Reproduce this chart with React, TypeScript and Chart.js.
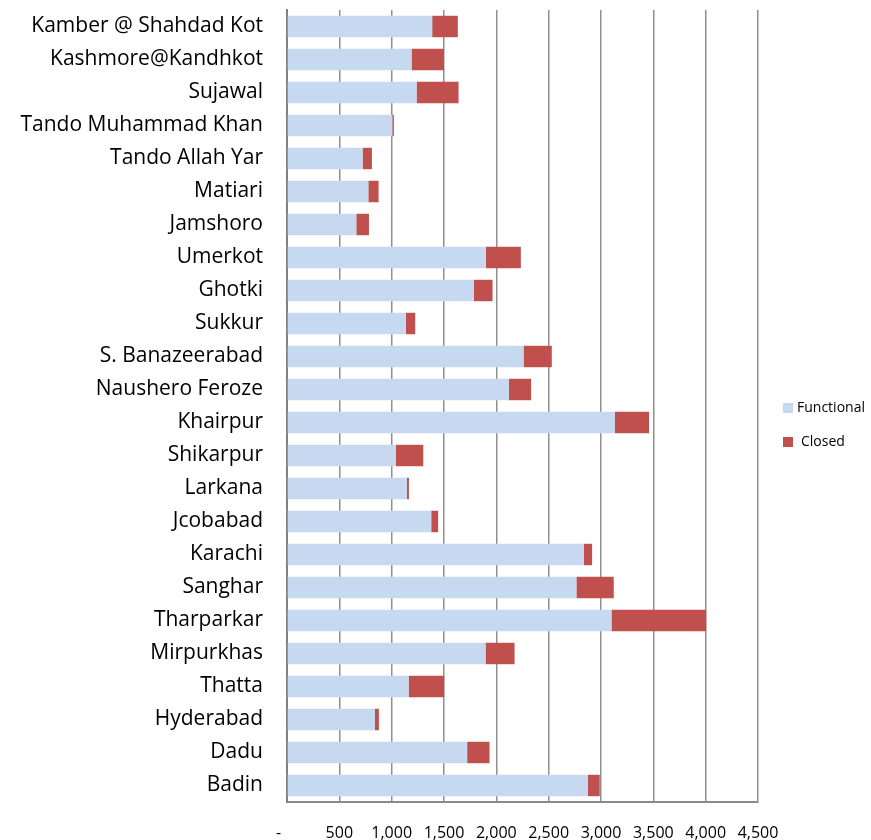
import React, { useEffect, useRef } from "react";
import { Chart, registerables } from "chart.js";

Chart.register(...registerables);

const districts = [
  "Kamber @ Shahdad Kot",
  "Kashmore@Kandhkot",
  "Sujawal",
  "Tando Muhammad Khan",
  "Tando Allah Yar",
  "Matiari",
  "Jamshoro",
  "Umerkot",
  "Ghotki",
  "Sukkur",
  "S. Banazeerabad",
  "Naushero Feroze",
  "Khairpur",
  "Shikarpur",
  "Larkana",
  "Jcobabad",
  "Karachi",
  "Sanghar",
  "Tharparkar",
  "Mirpurkhas",
  "Thatta",
  "Hyderabad",
  "Dadu",
  "Badin",
];

const functional = [
  1387, 1190, 1238, 1006, 722, 777, 662, 1900, 1785, 1136, 2260, 2119, 3131,
  1041, 1146, 1378, 2835, 2765, 3100, 1897, 1162, 840, 1721, 2876,
];

const closed = [
  245, 309, 401, 15, 89, 98, 121, 334, 179, 89, 270, 213, 328, 261, 19, 66,
  80, 357, 905, 277, 340, 38, 214, 112,
];

const seriesNames = ["Functional", "Closed"];
const seriesColors = ["#C6D9F1", "#C0504D"];

const xMax = 4500;
const xStep = 500;

const FONT = "'Open Sans', 'DejaVu Sans', sans-serif";

const legendPlugin = {
  id: "sideLegend",
  afterDraw(chart: any) {
    const { ctx, chartArea } = chart;
    const mid = (chartArea.top + chartArea.bottom) / 2;
    const x = chartArea.right + 25;
    ctx.save();
    ctx.font = `14px ${FONT}`;
    ctx.textBaseline = "middle";
    ctx.textAlign = "left";
    chart.data.datasets.forEach((ds: any, i: number) => {
      const cy = mid + 2 + i * 34;
      ctx.fillStyle = ds.backgroundColor;
      ctx.fillRect(x, cy - 5, 10, 10);
      ctx.fillStyle = "#000";
      ctx.fillText(ds.label, x + 14 + (i === 1 ? 4 : 0), cy);
    });
    ctx.restore();
  },
};

export default function App() {
  const ref = useRef<HTMLCanvasElement | null>(null);

  useEffect(() => {
    if (!ref.current) return;
    const chart = new Chart(ref.current, {
      type: "bar",
      data: {
        labels: districts,
        datasets: [
          {
            label: seriesNames[0],
            data: functional,
            backgroundColor: seriesColors[0],
            categoryPercentage: 1,
            barPercentage: 0.65,
          },
          {
            label: seriesNames[1],
            data: closed,
            backgroundColor: seriesColors[1],
            categoryPercentage: 1,
            barPercentage: 0.65,
          },
        ],
      },
      options: {
        indexAxis: "y",
        responsive: false,
        maintainAspectRatio: false,
        animation: false,
        layout: { padding: { top: 10, right: 113, bottom: 0, left: 0 } },
        plugins: {
          legend: { display: false },
          tooltip: { enabled: false },
        },
        scales: {
          x: {
            stacked: true,
            min: 0,
            max: xMax,
            afterFit: (scale: any) => {
              scale.paddingLeft = 0;
              scale.paddingRight = 0;
              scale.height = 38;
            },
            ticks: {
              stepSize: xStep,
              padding: 22,
              color: "#000",
              maxRotation: 0,
              autoSkip: false,
              font: { family: FONT, size: 16 },
              callback: (v: any) =>
                Number(v) === 0 ? "-    " : Number(v).toLocaleString("en-US"),
            },
            grid: {
              color: "#8f8f8f",
              lineWidth: 1.5,
              drawTicks: false,
            },
            border: { color: "#8a8a8a", width: 2 },
          },
          y: {
            stacked: true,
            afterFit: (scale: any) => {
              scale.width = 287;
              scale.paddingTop = 0;
              scale.paddingBottom = 0;
            },
            ticks: {
              padding: 24,
              color: "#000",
              autoSkip: false,
              font: { family: FONT, size: 21 },
            },
            grid: { display: false, drawTicks: false },
            border: { color: "#808080", width: 2 },
          },
        },
      },
      plugins: [legendPlugin],
    });
    return () => chart.destroy();
  }, []);

  return (
    <div
      style={{
        position: "absolute",
        left: 0,
        top: 0,
        width: 871,
        height: 840,
        background: "#fff",
      }}
    >
      <canvas
        ref={ref}
        width={871}
        height={840}
        style={{ display: "block", width: 871, height: 840 }}
      />
    </div>
  );
}
